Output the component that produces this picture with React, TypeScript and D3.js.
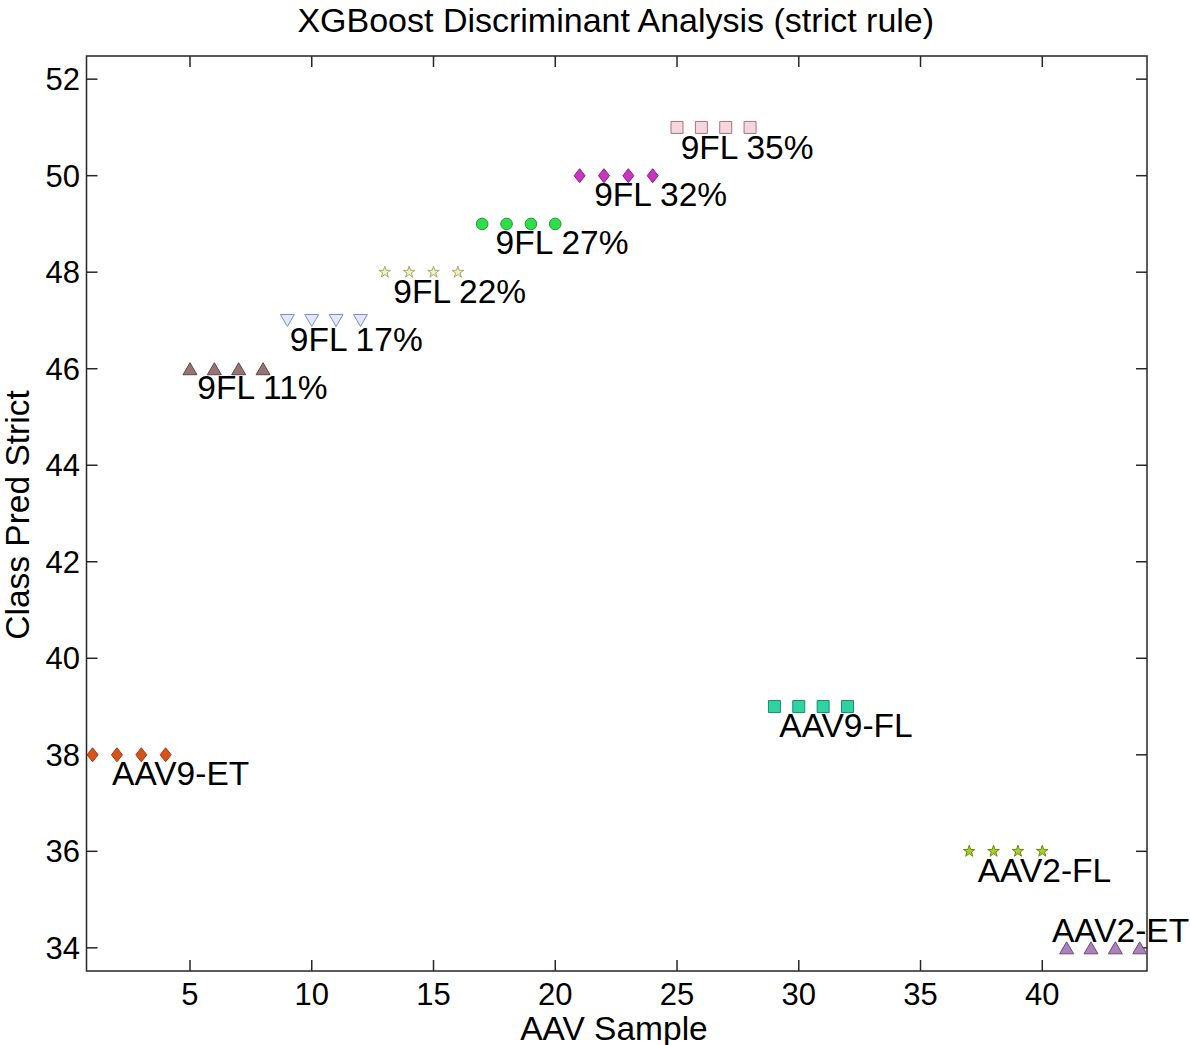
import React from "react";
import * as d3 from "d3";

// ---- data ----
const groupNames = ["AAV9-ET", "9FL 11%", "9FL 17%", "9FL 22%", "9FL 27%", "9FL 32%", "9FL 35%", "AAV9-FL", "AAV2-FL", "AAV2-ET"];
const groupX = [
  [1, 2, 3, 4],
  [5, 6, 7, 8],
  [9, 10, 11, 12],
  [13, 14, 15, 16],
  [17, 18, 19, 20],
  [21, 22, 23, 24],
  [25, 26, 27, 28],
  [29, 30, 31, 32],
  [37, 38, 39, 40],
  [41, 42, 43, 44],
];
const groupY = [38, 46, 47, 48, 49, 50, 51, 39, 36, 34];
const labelX = [1.8, 5.3, 9.1, 13.35, 17.55, 21.6, 25.15, 29.2, 37.35, 40.4];
const labelY = [37.62, 45.62, 46.62, 47.62, 48.62, 49.62, 50.6, 38.62, 35.62, 34.36];
const xTicks = [5, 10, 15, 20, 25, 30, 35, 40];
const yTicks = [34, 36, 38, 40, 42, 44, 46, 48, 50, 52];
const titleText = "XGBoost Discriminant Analysis (strict rule)";
const xLabelText = "AAV Sample";
const yLabelText = "Class Pred Strict";

// ---- styles ----
const shapes = ["diamond", "triUp", "triDown", "star", "circle", "diamond", "square", "square", "star", "triUp"];
const fills = ["#d95319", "#977474", "#e2e9fb", "#eef0cc", "#2fdf4a", "#c935c0", "#f6d6dd", "#2fd3a2", "#a9cf2c", "#ab82b9"];
const strokes = ["#9c3b14", "#5e4848", "#7d8cc4", "#a8ac5e", "#1c9a30", "#8a2086", "#a07585", "#1d8c6c", "#6a8a12", "#6a4b7a"];

const W = 1190;
const H = 1045;
const M = { left: 86.5, right: 1147, top: 56, bottom: 971 };
const FONT = "'Liberation Sans', Arial, Helvetica, sans-serif";

function markerPath(shape: string): string {
  switch (shape) {
    case "diamond":
      return "M0,-7L5.5,0L0,7L-5.5,0Z";
    case "triUp":
      return "M0,-6L7,6L-7,6Z";
    case "triDown":
      return "M0,6L7,-6L-7,-6Z";
    case "square":
      return "M-6,-6L6,-6L6,6L-6,6Z";
    case "circle":
      return d3.symbol().type(d3.symbolCircle).size(Math.PI * 5.8 * 5.8)() as string;
    case "star":
      return d3.symbol().type(d3.symbolStar).size(42)() as string;
    default:
      return "";
  }
}

export default function App() {
  const x = d3.scaleLinear().domain([0.75, 44.3]).range([M.left, M.right]);
  const y = d3.scaleLinear().domain([33.52, 52.48]).range([M.bottom, M.top]);
  const tickLen = 11;

  return (
    <svg
      width={W}
      height={H}
      style={{ position: "absolute", left: 0, top: 0, background: "#fff" }}
      fontFamily={FONT}
    >
      <rect x={0} y={0} width={W} height={H} fill="#fff" />
      {/* title */}
      <text x={(M.left + M.right) / 2 - 1} y={32} textAnchor="middle" fontSize={34} fill="#000">
        {titleText}
      </text>

      {/* box */}
      <rect
        x={M.left}
        y={M.top}
        width={M.right - M.left}
        height={M.bottom - M.top}
        fill="none"
        stroke="#262626"
        strokeWidth={1.5}
      />

      {/* x ticks */}
      {xTicks.map((t) => (
        <g key={"xt" + t}>
          <line x1={x(t)} x2={x(t)} y1={M.bottom} y2={M.bottom - tickLen} stroke="#262626" strokeWidth={1.5} />
          <line x1={x(t)} x2={x(t)} y1={M.top} y2={M.top + tickLen} stroke="#262626" strokeWidth={1.5} />
          <text x={x(t)} y={1005} textAnchor="middle" fontSize={31} fill="#000">
            {t}
          </text>
        </g>
      ))}

      {/* y ticks */}
      {yTicks.map((t) => (
        <g key={"yt" + t}>
          <line x1={M.left} x2={M.left + tickLen} y1={y(t)} y2={y(t)} stroke="#262626" strokeWidth={1.5} />
          <line x1={M.right} x2={M.right - tickLen} y1={y(t)} y2={y(t)} stroke="#262626" strokeWidth={1.5} />
          <text x={80} y={y(t) + 11} textAnchor="end" fontSize={31} fill="#000">
            {t}
          </text>
        </g>
      ))}

      {/* axis labels */}
      <text x={614} y={1040} textAnchor="middle" fontSize={33.5} fill="#000">
        {xLabelText}
      </text>
      <text
        transform={`translate(29, 515) rotate(-90)`}
        textAnchor="middle"
        fontSize={33.5}
        fill="#000"
      >
        {yLabelText}
      </text>

      {/* markers */}
      {groupNames.map((name, gi) => (
        <g key={name}>
          {groupX[gi].map((xv, i) => (
            <path
              key={i}
              d={markerPath(shapes[gi])}
              transform={`translate(${x(xv)}, ${y(groupY[gi])})`}
              fill={fills[gi]}
              stroke={strokes[gi]}
              strokeWidth={1}
            />
          ))}
        </g>
      ))}

      {/* labels */}
      {groupNames.map((name, gi) => (
        <text
          key={"lbl" + name}
          x={x(labelX[gi])}
          y={y(labelY[gi]) + 12}
          fontSize={33.5}
          fill="#000"
        >
          {name}
        </text>
      ))}
    </svg>
  );
}
